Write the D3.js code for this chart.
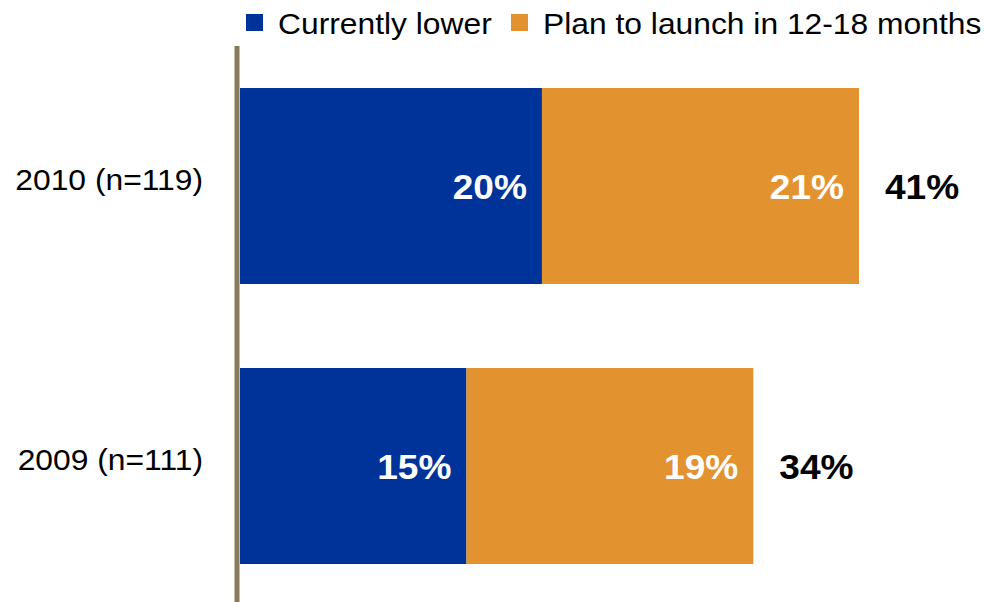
<!DOCTYPE html>
<html>
<head>
<meta charset="utf-8">
<script src="https://cdn.jsdelivr.net/npm/d3@7"></script>
<style>
  html, body { margin: 0; padding: 0; background: #ffffff; }
  svg { display: block; font-family: "Liberation Sans", Arial, sans-serif; }
</style>
</head>
<body>
<svg id="chart" width="985" height="602"></svg>
<script>
// Survey years and sample sizes
const categories = ["2010 (n=119)", "2009 (n=111)"];
// Share of respondents, in percent
const currentlyLower = [20, 15];
const planToLaunch = [21, 19];
const seriesNames = ["Currently lower", "Plan to launch in 12-18 months"];
const seriesColors = ["#003399", "#E39230"];

const svg = d3.select("#chart");
const W = 985, H = 602;
const stretch = "scale(1.06,1)"; // slightly wide lettering

const rows = categories.map((c, i) => ({
  cat: c,
  a: currentlyLower[i],
  b: planToLaunch[i],
  total: currentlyLower[i] + planToLaunch[i]
}));

const x = d3.scaleLinear().domain([0, 41]).range([240, 859]);
const y = d3.scaleBand().domain(categories).range([46, 606])
  .paddingInner(0.3).paddingOuter(0.15);

// stacked segments
const stack = d3.stack().keys(["a", "b"])(rows);
const layers = svg.selectAll("g.layer").data(stack).join("g")
  .attr("class", "layer")
  .attr("fill", (d, i) => seriesColors[i]);

layers.selectAll("rect").data(d => d).join("rect")
  .attr("x", d => x(d[0]))
  .attr("y", d => y(d.data.cat))
  .attr("width", d => x(d[1]) - x(d[0]))
  .attr("height", y.bandwidth());

// value labels inside each segment
layers.selectAll("g.val").data(d => d).join("g")
  .attr("class", "val")
  .attr("transform", d => `translate(${x(d[1]) - 15},${y(d.data.cat) + y.bandwidth() / 2})`)
  .append("text")
  .attr("transform", stretch)
  .attr("dy", "0.36em")
  .attr("text-anchor", "end")
  .attr("fill", "#ffffff")
  .attr("font-weight", "bold")
  .attr("font-size", 35)
  .text(d => (d[1] - d[0]) + "%");

// totals beyond bar end
svg.selectAll("g.total").data(rows).join("g")
  .attr("class", "total")
  .attr("transform", d => `translate(${x(d.total) + 26},${y(d.cat) + y.bandwidth() / 2})`)
  .append("text")
  .attr("transform", stretch)
  .attr("dy", "0.36em")
  .attr("fill", "#000000")
  .attr("font-weight", "bold")
  .attr("font-size", 35)
  .text(d => d.total + "%");

// category axis
const axis = d3.axisLeft(y).tickSize(0).tickPadding(0);
const gAxis = svg.append("g").attr("transform", "translate(237,0)").call(axis);
gAxis.select(".domain").remove();
gAxis.append("line")
  .attr("x1", 0).attr("x2", 0)
  .attr("y1", 46).attr("y2", H)
  .attr("stroke", "#877A5A")
  .attr("stroke-width", 5);
gAxis.selectAll(".tick text")
  .attr("x", 0)
  .attr("dy", 4)
  .attr("transform", "translate(-34,0) " + stretch)
  .attr("fill", "#000000")
  .attr("font-family", "Liberation Sans, Arial, sans-serif")
  .attr("font-size", 30);

// legend
const legendX = [246, 511];
const legend = svg.append("g").selectAll("g").data(seriesNames).join("g")
  .attr("transform", (d, i) => `translate(${legendX[i]},0)`);
legend.append("rect")
  .attr("x", 0).attr("y", 14)
  .attr("width", 17).attr("height", 17)
  .attr("fill", (d, i) => seriesColors[i]);
legend.append("text")
  .attr("transform", "translate(32,34) " + stretch)
  .attr("font-size", 30)
  .attr("fill", "#000000")
  .text(d => d);
</script>
</body>
</html>
